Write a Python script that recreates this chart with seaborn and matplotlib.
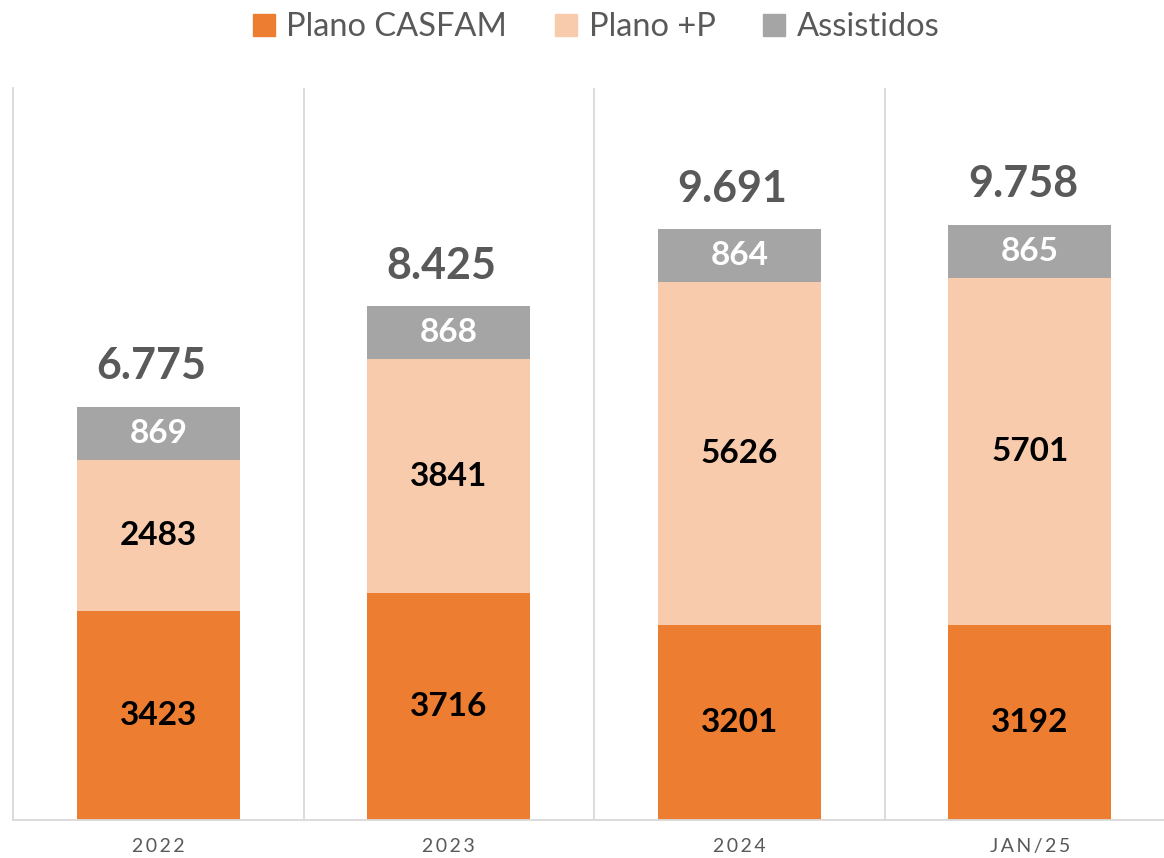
import matplotlib
matplotlib.use("Agg")
import matplotlib.pyplot as plt
import seaborn as sns
import pandas as pd
import numpy as np
from matplotlib.lines import Line2D

categories = ["2022", "2023", "2024", "JAN/25"]
plano_casfam = [3423, 3716, 3201, 3192]
plano_p = [2483, 3841, 5626, 5701]
assistidos = [869, 868, 864, 865]
series_names = ["Plano CASFAM", "Plano +P", "Assistidos"]
colors = ["#ED7D31", "#F8CBAD", "#A5A5A5"]
label_colors = ["black", "black", "white"]

sns.set_theme(style="white")
plt.rcParams['font.family'] = ['Lato', 'DejaVu Sans']

fig = plt.figure(figsize=(11.64, 8.58), dpi=100)
ax = fig.add_axes([13/1164, 38/858, (1164-13)/1164, 732/858])

series = [plano_casfam, plano_p, assistidos]
bottoms = np.zeros(len(categories))
for name, vals, col, lcol in zip(series_names, series, colors, label_colors):
    df = pd.DataFrame({"cat": categories, "val": vals})
    sns.barplot(data=df, x="cat", y="val", color=col, width=0.56,
                bottom=bottoms.copy(), ax=ax, saturation=1, edgecolor="none",
                linewidth=0, errorbar=None)
    for i, v in enumerate(vals):
        ax.text(i, bottoms[i] + v / 2, str(v), ha="center", va="center",
                fontsize=24, fontweight="bold", color=lcol)
    bottoms = bottoms + np.array(vals)

for i, t in enumerate(bottoms):
    s = f"{int(t):,}".replace(",", ".")
    ax.annotate(s, (i, t), xytext=(-5, 29), textcoords="offset points",
                ha="center", va="center", fontsize=31, fontweight="bold",
                color="#595959")

ax.set_ylim(0, 12000)
ax.set_xlim(-0.5, 3.462)
ax.set_xlabel("")
ax.set_ylabel("")
ax.set_yticks([])
ax.set_xticks(range(len(categories)))
spaced = ["\u2009".join(list(c)) for c in categories]
ax.set_xticklabels(spaced, fontsize=14, color="#595959")
ax.tick_params(axis="x", length=0, pad=13)
ax.set_xticks([0.5, 1.5, 2.5], minor=True)
ax.grid(False)
ax.grid(True, which="minor", axis="x", color="#D9D9D9", linewidth=1.3)
ax.tick_params(axis="x", which="minor", length=0)
for side in ["top", "right"]:
    ax.spines[side].set_visible(False)
for side in ["left", "bottom"]:
    ax.spines[side].set_color("#D9D9D9")
    ax.spines[side].set_linewidth(1.3)

handles = [Line2D([0], [0], marker="s", linestyle="none", markersize=16,
                  markerfacecolor=c, markeredgecolor=c) for c in colors]
fig.legend(handles, series_names, loc="center", bbox_to_anchor=(0.51, 1 - 27/858),
           ncol=3, frameon=False, fontsize=23.5, labelcolor="#595959",
           handletextpad=0.2, columnspacing=1.3, handlelength=1.0)

fig.savefig("out.png", dpi=100)
